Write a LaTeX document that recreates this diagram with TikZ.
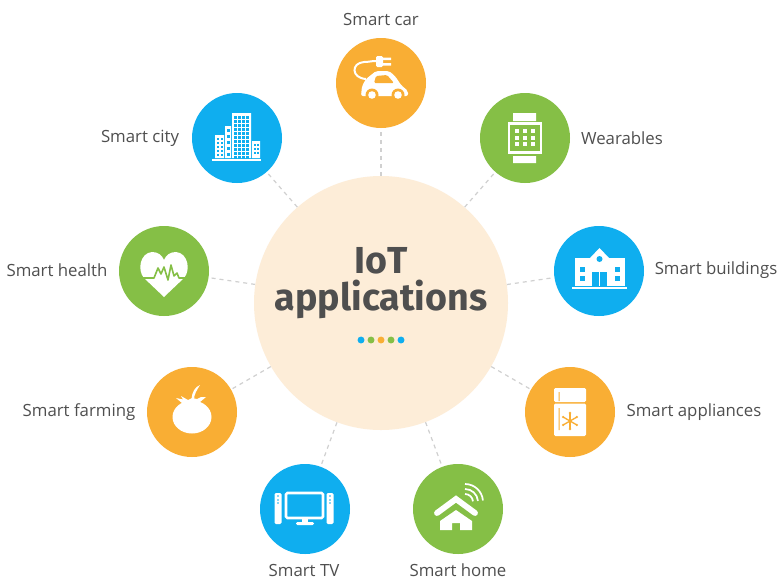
\documentclass[tikz,border=0pt]{standalone}
\usepackage{fontspec}
\setmainfont{Open Sans}
\newfontfamily\titlefont{Fira Sans}
\definecolor{orng}{HTML}{F9AE34}
\definecolor{blu}{HTML}{0FAEEF}
\definecolor{grn}{HTML}{85BF46}
\definecolor{hubc}{HTML}{FDEDD8}
\definecolor{txt}{HTML}{4F4F4F}
\definecolor{lnk}{HTML}{D0D0D0}
\tikzset{
  bub/.style={circle,minimum size=67.5pt,inner sep=0pt,fill=#1},
  lab/.style={text=txt,font=\fontsize{12.6}{15}\selectfont,inner sep=0pt},
  link/.style={draw=lnk,line width=0.9pt,dash pattern=on 3pt off 3pt},
  dotn/.style={circle,minimum size=5.2pt,inner sep=0pt,fill=#1},
}
\begin{document}
\begin{tikzpicture}[x=0.75pt,y=-0.75pt]
\useasboundingbox (0,0) rectangle (777,579);
\fill[white] (0,0) rectangle (777,579);
\node[circle,minimum size=190.5pt,inner sep=0pt,fill=hubc] (hub) at (381,303) {};
\node[bub=orng] (car) at (381,83) {};
\node[bub=blu] (city) at (237,138) {};
\node[bub=grn] (wear) at (525,138) {};
\node[bub=grn] (health) at (164,271) {};
\node[bub=blu] (build) at (599,271) {};
\node[bub=orng] (farm) at (192,412) {};
\node[bub=orng] (appl) at (570,412) {};
\node[bub=blu] (tv) at (305,509) {};
\node[bub=grn] (home) at (458,509) {};
\foreach \n in {car,city,wear,health,build,farm,appl,tv,home} \draw[link] (hub) -- (\n);
% labels
\node[lab] (lcar) at (381,19.3) {Smart car};
\node[lab] (lcity) at (140,138.3) {Smart city};
\node[lab] (lwear) at (622,138.3) {Wearables};
\node[lab] (lhealth) at (57,270.3) {Smart health};
\node[lab] (lbuild) at (716,270.3) {Smart buildings};
\node[lab] (lfarm) at (79,412.3) {Smart farming};
\node[lab] (lappl) at (694,412.3) {Smart appliances};
\node[lab] (ltv) at (304,570.5) {Smart TV};
\node[lab] (lhome) at (458,570.5) {Smart home};
% title
\node[text=txt,font=\titlefont\bfseries\fontsize{28.2}{28}\selectfont,align=center,inner sep=0pt] (title) at (381,283) {IoT\\applications};
\node[dotn=blu] (d1) at (361,340) {};
\node[dotn=grn] (d2) at (371,340) {};
\node[dotn=orng] (d3) at (381,340) {};
\node[dotn=grn] (d4) at (391,340) {};
\node[dotn=blu] (d5) at (401,340) {};
% car icon
\begin{scope}[shift={(car.center)}]
\fill[white,rounded corners=1.5pt] (-20,13) -- (-19,3) -- (-15,-4) -- (-5,-12) -- (8,-12) -- (14,-7) -- (20,2) -- (27,8) -- (27,13) -- cycle;
\fill[orng,rounded corners=1pt] (-7,0) -- (-5,-7) -- (6,-8) -- (13,0) -- cycle;
\foreach \x in {-9,17} {\fill[orng] (\x,12) circle[radius=6.5*0.75pt]; \fill[white] (\x,12) circle[radius=3.8*0.75pt];}
\fill[white,rounded corners=1pt] (-5,-27) rectangle (2,-16);
\fill[white] (2,-25.5) rectangle (10,-23) (2,-20) rectangle (10,-17.5);
\draw[white,line width=1.5pt] (-5,-22) .. controls (-10,-22) and (-12,-21) .. (-17,-21) .. controls (-30,-20) and (-30,-5) .. (-15,-4);
\end{scope}
% city icon
\begin{scope}[shift={(city.center)}]
\fill[white] (-25,21) rectangle (24,23);
\fill[white] (-5,-25) rectangle (14,20) (-12,-12) rectangle (-6,20) (-22,-3) rectangle (-13,20) (15,3) rectangle (23,20);
\foreach \x in {-3,1,5,9} \foreach \y in {-22,-18,...,18} \fill[blu] (\x,\y) rectangle ++(2.6,2.6);
\foreach \y in {-9,-3,3,9,15} \fill[blu] (-10.5,\y) rectangle ++(3,3);
\foreach \x in {-20,-16.5} \foreach \y in {0,4,...,16} \fill[blu] (\x,\y) rectangle ++(2.2,2.4);
\foreach \x in {17,20} \foreach \y in {6,10,14} \fill[blu] (\x,\y) rectangle ++(1.8,2.2);
\end{scope}
% watch icon
\begin{scope}[shift={(wear.center)}]
\fill[white] (-12,-25) rectangle (11,-17) (-12,18) rectangle (11,25);
\draw[white,line width=1.9pt] (-16,-14.5) rectangle (16,14.5);
\foreach \x in {-8,0,8} \foreach \y in {-7,0,6} \fill[white] (\x-2,\y-2) rectangle ++(4,4);
\end{scope}
% heart icon
\begin{scope}[shift={(health.center)}]
\fill[white] (0,26) -- (-20,7) .. controls (-27,-1) and (-24,-18) .. (-12,-19) .. controls (-6,-19) and (-2,-16) .. (0,-11) .. controls (2,-16) and (6,-19) .. (12,-19) .. controls (24,-18) and (27,-1) .. (20,7) -- cycle;
\draw[grn,line width=1.2pt,line join=round] (-21,7) -- (-10,7) -- (-6,-3) -- (-3,3) -- (0,-4) -- (4,9) -- (7,-6) -- (10,5) -- (13,2) -- (15,7) -- (21,7);
\end{scope}
% tomato icon
\begin{scope}[shift={(farm.center)}]
\fill[white] (0,5) ellipse[x radius=19.5*0.75pt,y radius=16.5*0.75pt];
\fill[white] (-16,-14) -- (-9,-12.5) -- (-11,-16) -- (-4,-12) -- (0,-14) -- (5,-13) -- (9,-15) -- (14,-15) -- (8,-10) -- (0,-7) -- (-10,-9) -- cycle;
\fill[white] (-0.5,-13) .. controls (0,-20) and (3,-25) .. (8,-27) .. controls (5,-22) and (2,-18) .. (2,-12) -- cycle;
\end{scope}
% tv icon
\begin{scope}[shift={(tv.center)}]
\draw[white,line width=1.9pt,rounded corners=1pt] (-19,-16) rectangle (18,9);
\fill[white] (-3,10) rectangle (3,13);
\fill[white,rounded corners=1pt] (-9,13) rectangle (9,16);
\foreach \x in {-27,25} {
 \fill[white,rounded corners=1pt] (\x-3.5,-16) rectangle (\x+3.5,15);
 \foreach \y in {-13,-9,-6} \fill[blu] (\x,\y) circle[radius=0.9*0.75pt];
}
\end{scope}
% home icon
\begin{scope}[shift={(home.center)}]
\draw[white,line width=4.4pt,line cap=round,line join=miter] (-21,4) -- (-2,-10) -- (17,4);
\fill[white] (-2,1) -- (14,12) -- (14,21) -- (2,21) -- (2,14) -- (-6,14) -- (-6,21) -- (-18,21) -- (-18,12) -- cycle;
\foreach \r in {8,13,18} \draw[white,line width=1.3pt] (7,-7-\r) arc[start angle=90,end angle=5,radius=\r*0.75pt];
\end{scope}
% building icon
\begin{scope}[shift={(build.center)}]
\fill[white] (-27,15.5) rectangle (28,18);
\fill[white] (-24,-13) rectangle (26,15);
\fill[white] (-9,-13) -- (0.5,-23) -- (10,-13) -- cycle;
\fill[blu] (0.5,-12) circle[radius=3*0.75pt];
\fill[blu] (-7,1) rectangle (8,15);
\fill[white] (0,1) rectangle (1,15);
\foreach \x in {-17,18} \foreach \y in {-2,7} \fill[blu] (\x-2.5,\y-2.5) rectangle ++(5,5);
\end{scope}
% fridge icon
\begin{scope}[shift={(appl.center)}]
\fill[white,rounded corners=1pt] (-16,-24) rectangle (16,-10);
\fill[white,rounded corners=1pt] (-16,-8.5) rectangle (16,24);
\fill[orng] (-11.5,-20) rectangle (-10.5,-11) (-11.5,-4) rectangle (-10.5,18);
\foreach \a in {30,90,150} \draw[orng,line width=1pt] ([shift={(\a:6pt)}]0,9) -- ([shift={(\a+180:6pt)}]0,9);
\foreach \a in {30,90,...,330} \fill[orng] ([shift={(\a:6pt)}]0,9) circle[radius=1.3*0.75pt];
\end{scope}
\end{tikzpicture}
\end{document}
